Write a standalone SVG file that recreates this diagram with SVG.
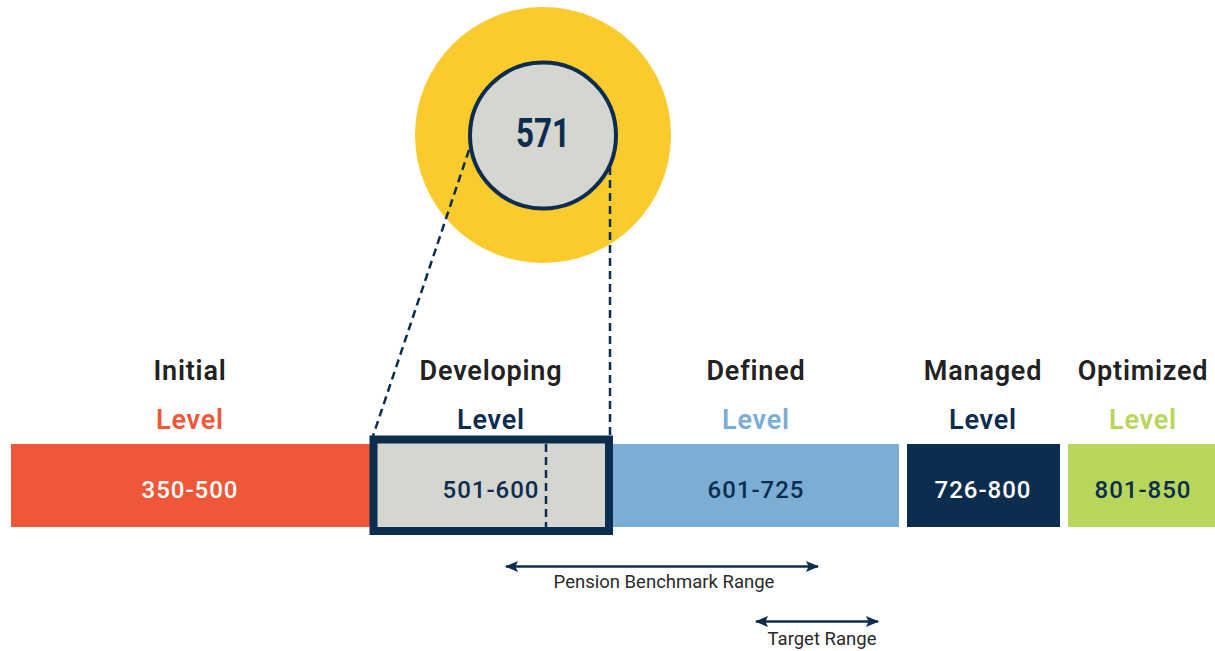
<svg xmlns="http://www.w3.org/2000/svg" width="1215" height="651" viewBox="0 0 1215 651">
<style>
.hd{font-family:Roboto,"Liberation Sans",sans-serif;font-weight:600;font-size:27px;letter-spacing:0.8px;text-anchor:middle}
.num{font-family:Roboto,"Liberation Sans",sans-serif;font-weight:500;font-size:24px;letter-spacing:1px;text-anchor:middle}
.sm{font-family:Roboto,"Liberation Sans",sans-serif;font-size:18.5px;fill:#2a2a2a;text-anchor:middle}
.dash{stroke:#0B2D50;stroke-width:2.5;stroke-dasharray:8 5;fill:none}
.arr{stroke:#0B2D50;stroke-width:2.5;fill:none;marker-start:url(#ah);marker-end:url(#ah)}
</style>
<defs>
<marker id="ah" viewBox="0 0 12 10" refX="11" refY="5" markerWidth="7" markerHeight="4.4" orient="auto-start-reverse" markerUnits="strokeWidth">
<path d="M0,0 L12,5 L0,10 L2.5,5 z" fill="#0B2D50"/>
</marker>
</defs>
<rect width="1215" height="651" fill="#fff"/>
<g id="score">
<circle cx="543" cy="135" r="128" fill="#FBCA2C"/>
<circle cx="543" cy="135.5" r="73" fill="#D5D6D0" stroke="#0B2D50" stroke-width="4"/>
<text x="543" y="147" font-family="Roboto,'Liberation Sans',sans-serif" font-weight="700" font-size="41" fill="#0B2D50" text-anchor="middle" textLength="54" lengthAdjust="spacingAndGlyphs">571</text>
</g>
<g id="initial">
<rect x="11" y="444" width="362" height="83" fill="#EE5737"/>
<text class="hd" x="190" y="380" fill="#222">Initial</text>
<text class="hd" x="190" y="429" fill="#EE5737">Level</text>
<text class="num" x="190" y="498" fill="#fff">350-500</text>
</g>
<g id="defined">
<rect x="609" y="444" width="290" height="83" fill="#7BADD5"/>
<text class="hd" x="756" y="380" fill="#222">Defined</text>
<text class="hd" x="756" y="429" fill="#7BADD5">Level</text>
<text class="num" x="756" y="498" fill="#0B2D50">601-725</text>
</g>
<g id="developing">
<rect x="373.5" y="439.5" width="235.5" height="91.5" fill="#D5D6D0" stroke="#0B2D50" stroke-width="8"/>
<line class="dash" x1="546" y1="444" x2="546" y2="527"/>
<text class="hd" x="491" y="380" fill="#222">Developing</text>
<text class="hd" x="491" y="429" fill="#0B2D50">Level</text>
<text class="num" x="491" y="498" fill="#0B2D50">501-600</text>
</g>
<g id="managed">
<rect x="907" y="444" width="153" height="83" fill="#0B2D50"/>
<text class="hd" x="983" y="380" fill="#222">Managed</text>
<text class="hd" x="983" y="429" fill="#0B2D50">Level</text>
<text class="num" x="983" y="498" fill="#fff">726-800</text>
</g>
<g id="optimized">
<rect x="1068" y="444" width="147" height="83" fill="#B7D65A"/>
<text class="hd" x="1143" y="380" fill="#222">Optimized</text>
<text class="hd" x="1143" y="429" fill="#B7D65A">Level</text>
<text class="num" x="1143" y="498" fill="#0B2D50">801-850</text>
</g>
<g id="connectors">
<line class="dash" x1="469" y1="150" x2="373" y2="436"/>
<line class="dash" x1="610" y1="167" x2="610" y2="436"/>
<line class="arr" x1="506" y1="566.5" x2="818" y2="566.5"/>
<line class="arr" x1="756" y1="621.5" x2="878" y2="621.5"/>
</g>
<g id="labels">
<text class="sm" x="664" y="588">Pension Benchmark Range</text>
<text class="sm" x="822" y="645">Target Range</text>
</g>
</svg>
